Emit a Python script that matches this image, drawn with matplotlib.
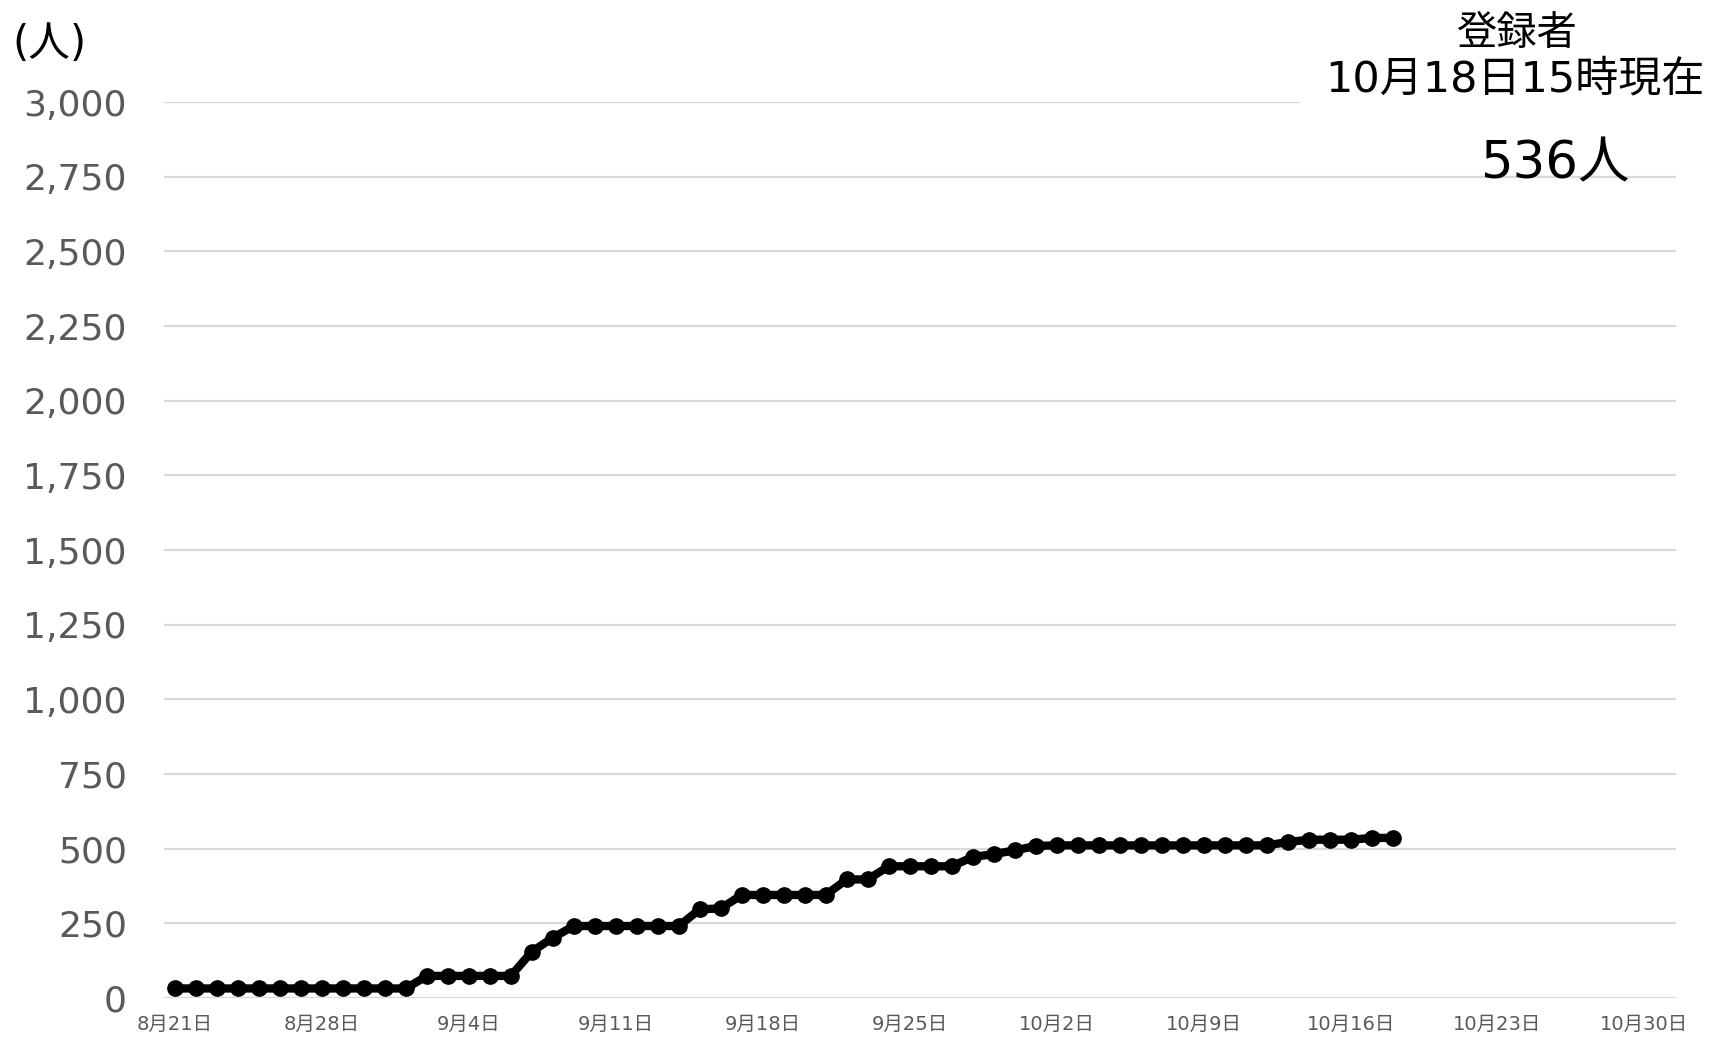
import matplotlib
matplotlib.use("Agg")
import matplotlib.pyplot as plt
import numpy as np
import pandas as pd

plt.rcParams['font.family'] = ['DejaVu Sans', 'Noto Sans CJK JP']

# Data (cumulative registrants, daily from 8/21 to 10/18)
start_date = "2021-08-21"
values = [32, 32, 32, 32, 32, 32, 32, 32, 32, 32, 32, 32,      # 8/21-9/1
          74, 74, 74, 74, 74,                                  # 9/2-9/6
          155, 202,                                            # 9/7-9/8
          241, 241, 241, 241, 241, 241,                        # 9/9-9/14
          297, 300,                                            # 9/15-9/16
          345, 345, 345, 345, 345,                             # 9/17-9/21
          397, 397,                                            # 9/22-9/23
          441, 441, 441, 441,                                  # 9/24-9/27
          472, 482, 494,                                       # 9/28-9/30
          509,                                                 # 10/1
          511, 511, 511, 511, 511, 511, 511, 511, 511, 511, 511,  # 10/2-10/12
          522, 530, 530, 530, 536, 536]                        # 10/13-10/18
axis_end = "2021-10-31"
yticks = [0, 250, 500, 750, 1000, 1250, 1500, 1750, 2000, 2250, 2500, 2750, 3000]
unit_label = "(人)"
note_title = "登録者"
note_time = "10月18日15時現在"
note_total = "536人"

dates = pd.date_range(start_date, periods=len(values), freq="D")
axis_dates = pd.date_range(start_date, axis_end, freq="D")
x = np.arange(len(values))
tick_idx = np.arange(0, len(axis_dates), 7)
tick_labels = [f"{axis_dates[i].month}月{axis_dates[i].day}日" for i in tick_idx]

fig = plt.figure(figsize=(17.2, 10.41), dpi=100)
ax = fig.add_axes([0.0956, 0.0413, 0.8788, 0.8607])

ax.plot(x, values, color="black", lw=6, marker="o", markersize=11,
        solid_joinstyle="round", zorder=3)

ax.set_xlim(-0.5, len(axis_dates) - 0.5)
ax.set_ylim(0, 3000)
ax.set_yticks(yticks)
ax.set_yticklabels([f"{v:,}" for v in yticks], fontsize=26, color="#595959")
ax.set_xticks(tick_idx)
ax.set_xticklabels(tick_labels, fontsize=14, color="#595959")
ax.tick_params(axis="y", length=0, pad=27)
ax.tick_params(axis="x", length=0, pad=12)
ax.grid(axis="y", color="#d9d9d9", lw=1.6)
ax.set_axisbelow(True)
for s in ax.spines.values():
    s.set_visible(False)

fig.text(0.007, 0.958, unit_label, fontsize=30, color="black", va="center", ha="left")
fig.text(0.881, 0.924, note_time, fontsize=31, color="black", ha="center", va="center",
         bbox=dict(facecolor="white", edgecolor="none", pad=18), zorder=5)
fig.text(0.882, 0.967, note_title, fontsize=29, color="black", ha="center", va="center",
         zorder=6)
fig.text(0.904, 0.842, note_total, fontsize=37, color="black", ha="center", va="center")

fig.savefig("out.png", dpi=100, facecolor="white")
